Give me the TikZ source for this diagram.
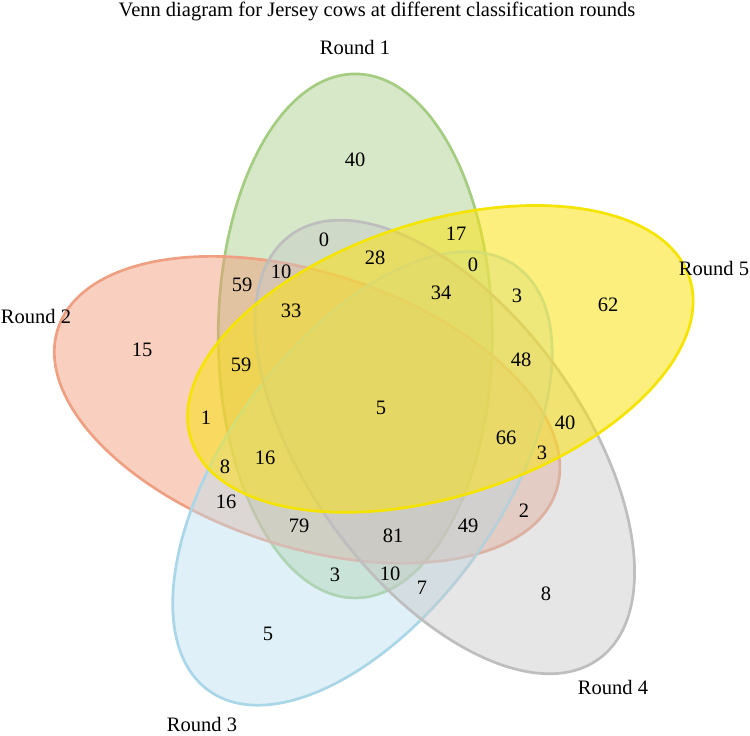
\documentclass[tikz,border=0pt]{standalone}
\usepackage{fontspec}
\setmainfont{Liberation Serif}
\definecolor{gF}{RGB}{164,204,133}
\definecolor{gD}{RGB}{165,205,130}
\definecolor{rF}{RGB}{242,151,115}
\definecolor{rD}{RGB}{240,160,130}
\definecolor{bF}{RGB}{186,222,239}
\definecolor{bD}{RGB}{170,215,232}
\definecolor{kF}{RGB}{199,199,199}
\definecolor{kD}{RGB}{190,190,190}
\definecolor{yF}{RGB}{251,226,20}
\definecolor{yD}{RGB}{245,228,0}
\tikzset{
  setell/.style={line width=2.7pt},
  num/.style={font=\fontsize{20.5}{24}\selectfont, inner sep=0pt},
  lab/.style={font=\fontsize{20.5}{24}\selectfont, inner sep=0pt},
}
\begin{document}
\begin{tikzpicture}[x=1pt,y=1pt]
\useasboundingbox (0,0) rectangle (750,736);
% centre of the arrangement (pixel (382,406))
\begin{scope}[shift={(382,330)}]
  \begin{scope}[rotate=0]
    \path[setell, fill=gF, fill opacity=0.45, draw=gD] (110.9:75) ellipse [x radius=137, y radius=262];
  \end{scope}
  \begin{scope}[rotate=72]
    \path[setell, fill=rF, fill opacity=0.45, draw=rD] (110.9:75) ellipse [x radius=137, y radius=262];
  \end{scope}
  \begin{scope}[rotate=144]
    \path[setell, fill=bF, fill opacity=0.45, draw=bD] (110.9:75) ellipse [x radius=137, y radius=262];
  \end{scope}
  \begin{scope}[rotate=216]
    \path[setell, fill=kF, fill opacity=0.45, draw=kD] (110.9:75) ellipse [x radius=137, y radius=262];
  \end{scope}
  \begin{scope}[rotate=288]
    \path[setell, fill=yF, fill opacity=0.55, draw=yD] (110.9:75) ellipse [x radius=137, y radius=262];
  \end{scope}
\end{scope}
% title and set labels
\node[lab] (title) at (377,724) {Venn diagram for Jersey cows at different classification rounds};
\node[lab] (r1) at (355,689) {Round 1};
\node[lab] (r2) at (36,420) {Round 2};
\node[lab] (r3) at (202,12) {Round 3};
\node[lab] (r4) at (613,49) {Round 4};
\node[lab] (r5) at (714,468) {Round 5};
% region counts (pixel y converted: 736 - y)
\node[num] (n1) at (355,576) {40};
\node[num] (n2) at (324,496) {0};
\node[num] (n3) at (456,502) {17};
\node[num] (n4) at (375,478) {28};
\node[num] (n5) at (473,471) {0};
\node[num] (n6) at (281,464) {10};
\node[num] (n7) at (242,451) {59};
\node[num] (n8) at (441,443) {34};
\node[num] (n9) at (517,440) {3};
\node[num] (n10) at (608,431) {62};
\node[num] (n11) at (142,386) {15};
\node[num] (n12) at (291,425) {33};
\node[num] (n13) at (241,371) {59};
\node[num] (n14) at (521,376) {48};
\node[num] (n15) at (206,318) {1};
\node[num] (n16) at (381,328) {5};
\node[num] (n17) at (506,298) {66};
\node[num] (n18) at (565,313) {40};
\node[num] (n19) at (542,283) {3};
\node[num] (n20) at (225,269) {8};
\node[num] (n21) at (265,278) {16};
\node[num] (n22) at (226,234) {16};
\node[num] (n23) at (524,225) {2};
\node[num] (n24) at (299,210) {79};
\node[num] (n25) at (393,200) {81};
\node[num] (n26) at (468,210) {49};
\node[num] (n27) at (335,161) {3};
\node[num] (n28) at (390,162) {10};
\node[num] (n29) at (422,148) {7};
\node[num] (n30) at (546,142) {8};
\node[num] (n31) at (268,102) {5};
\end{tikzpicture}
\end{document}
